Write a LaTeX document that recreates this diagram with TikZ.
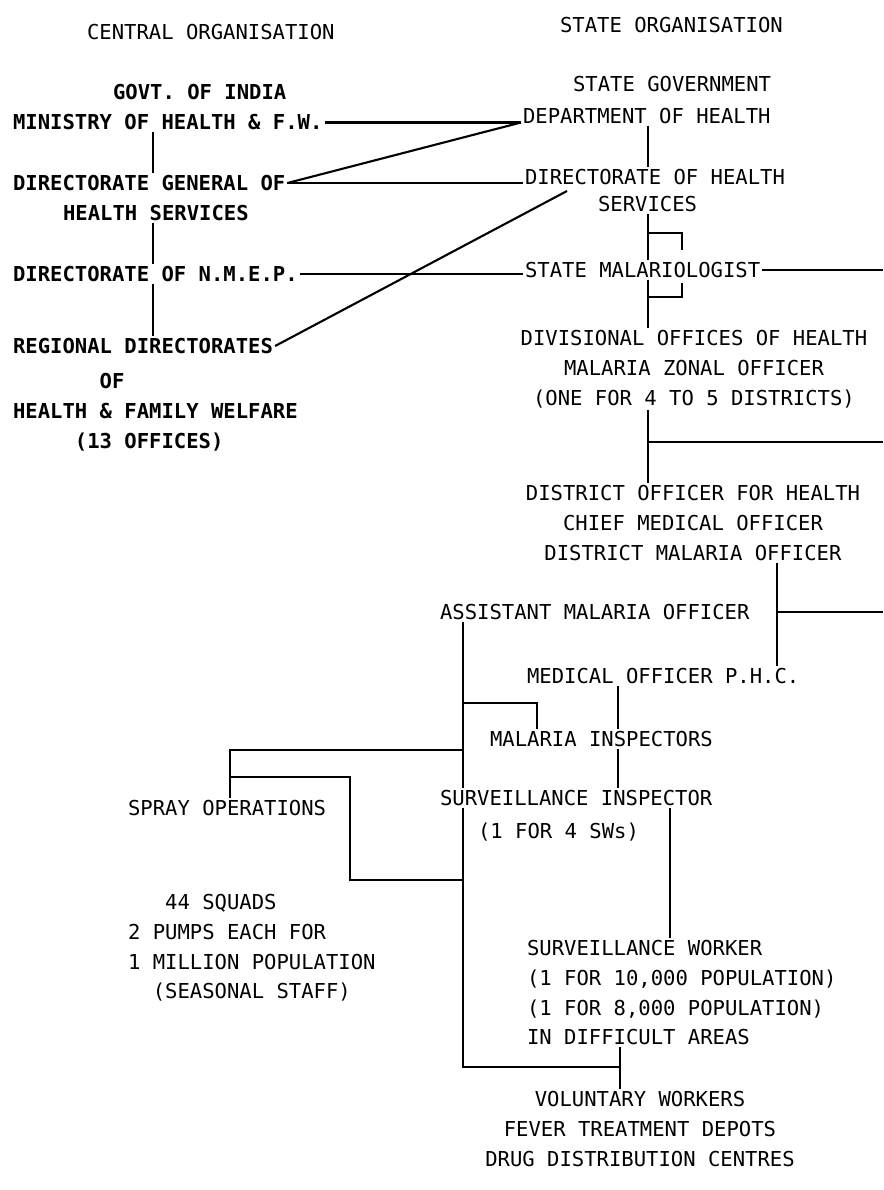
\documentclass[tikz,border=0pt]{standalone}
\usepackage{fontspec}
\setmainfont{DejaVu Sans Mono}

\begin{document}
\begin{tikzpicture}[x=0.02cm, y=-0.02cm,
  font=\fontsize{11.7pt}{17pt}\selectfont,
  lbl/.style={anchor=west, inner sep=1pt, text height=8.5pt, text depth=0pt},
  blk/.style={anchor=north, inner sep=1pt, align=center},
  blkleft/.style={anchor=north west, inner sep=1pt, align=left},
  heavy/.style={font=\fontsize{11.7pt}{17pt}\selectfont\bfseries},
  link/.style={line width=1.2pt}]
\useasboundingbox (0,0) rectangle (883,1190);

% central organisation
\node (central) [lbl] at (85,32) {CENTRAL ORGANISATION};
\node (govt) [lbl, heavy] at (111,92) {GOVT. OF INDIA};
\node (ministry) [lbl, heavy] at (11,122.5) {MINISTRY OF HEALTH \& F.W.};
\node (dghs) [lbl, heavy] at (11,183) {DIRECTORATE GENERAL OF};
\node (dghsb) [lbl, heavy] at (61,213) {HEALTH SERVICES};
\node (nmep) [lbl, heavy] at (11,274) {DIRECTORATE OF N.M.E.P.};
\node (regional) [lbl, heavy] at (11,346) {REGIONAL DIRECTORATES};
\node (regionalb) [blkleft, heavy] at (11,371) {\hphantom{0000000}OF\\HEALTH \& FAMILY WELFARE\\\hphantom{00000}(13 OFFICES)};

% state organisation
\node (stateorg) [lbl] at (558,25) {STATE ORGANISATION};
\node (stategov) [lbl] at (571,84) {STATE GOVERNMENT};
\node (dept) [lbl] at (521,116) {DEPARTMENT OF HEALTH};
\node (dhs) [lbl] at (523,177) {DIRECTORATE OF HEALTH};
\node (dhsb) [lbl] at (596,204) {SERVICES};
\node (malariologist) [lbl] at (523,270) {STATE MALARIOLOGIST};
\node (divisional) [blk] at (694,328) {DIVISIONAL OFFICES OF HEALTH\\MALARIA ZONAL OFFICER\\(ONE FOR 4 TO 5 DISTRICTS)};
\node (district) [blk] at (693,483) {DISTRICT OFFICER FOR HEALTH\\CHIEF MEDICAL OFFICER\\DISTRICT MALARIA OFFICER};
\node (amo) [lbl] at (438,612) {ASSISTANT MALARIA OFFICER};
\node (mophc) [lbl] at (525,676) {MEDICAL OFFICER P.H.C.};
\node (inspectors) [lbl] at (488,739) {MALARIA INSPECTORS};
\node (survinsp) [lbl] at (438,798) {SURVEILLANCE INSPECTOR};
\node (survinspb) [lbl] at (476,831) {(1 FOR 4 SWs)};
\node (survworker) [blkleft] at (525,938) {SURVEILLANCE WORKER\\(1 FOR 10,000 POPULATION)\\(1 FOR 8,000 POPULATION)\\IN DIFFICULT AREAS};
\node (voluntary) [blk] at (640,1089) {VOLUNTARY WORKERS\\FEVER TREATMENT DEPOTS\\DRUG DISTRIBUTION CENTRES};
\node (spray) [lbl] at (126,808) {SPRAY OPERATIONS};
\node (squads) [blkleft] at (126,892) {\hphantom{000}44 SQUADS\\2 PUMPS EACH FOR\\1 MILLION POPULATION\\\hphantom{00}(SEASONAL STAFF)};

% columns and free ends
\coordinate (cx) at (153,0);
\coordinate (rx) at (648,0);
\coordinate (dx) at (777,0);
\coordinate (ax) at (463,0);
\coordinate (mx) at (618,0);
\coordinate (wx) at (670,0);
\coordinate (edge) at (883,0);
\coordinate (dhsfoot) at (567,191);
\coordinate (divout) at (883,442);
\coordinate (mi) at (537,703);
\coordinate (sp1) at (230,750);
\coordinate (sp2) at (350,777);
\coordinate (sp3) at (350,880);
\coordinate (join) at (620,1067);

% central links
\draw[link] (ministry.south -| cx) -- (dghs.north -| cx);
\draw[link] (dghsb.south -| cx) -- (nmep.north -| cx);
\draw[link] (nmep.south -| cx) -- (regional.north -| cx);

% central to state
\draw[link] (ministry.east) -- (ministry.east -| dept.west);
\draw[link] (dghs.east) -- (ministry.east -| dept.west);
\draw[link] (dghs.east) -- (dghs.east -| dhs.west);
\draw[link] (nmep.east) -- (nmep.east -| malariologist.west);
\draw[link] (regional.east) -- (dhsfoot);

% state links
\draw[link] (dept.south -| rx) -- (dhs.north -| rx);
\draw[link] (dhsb.south -| rx) -- (malariologist.north -| rx);
\draw[link] (dhsb.south -| rx) ++(0,19) -| ++(34,17);
\draw[link] (malariologist.south -| rx) -- (divisional.north -| rx);
\draw[link] (malariologist.south -| rx) ++(0,17) -| ++(34,-14);
\draw[link] (malariologist.east) -- (malariologist.east -| edge);
\draw[link] (divisional.south -| rx) -- (district.north -| rx);
\draw[link] (divout -| rx) -- (divout);
\draw[link] (district.south -| dx) -- (mophc.north -| dx);
\draw[link] (amo.east -| dx) -- (amo.east -| edge);

% district level
\draw[link] (amo.south -| ax) -- (survinsp.north -| ax);
\draw[link] (mi -| ax) -| (inspectors.north -| mi);
\draw[link] (survinsp.south -| ax) |- (join);
\draw[link] (mophc.south -| mx) -- (inspectors.north -| mx);
\draw[link] (inspectors.south -| mx) -- (survinsp.north -| mx);
\draw[link] (survinsp.south -| wx) -- (survworker.north -| wx);
\draw[link] (survworker.south -| join) -- (voluntary.north -| join);

% spray operations
\draw[link] (spray.north -| sp1) -- (sp1) -- (sp1 -| ax);
\draw[link] (sp1 |- sp2) -| (sp3) -- (sp3 -| ax);
\end{tikzpicture}
\end{document}
